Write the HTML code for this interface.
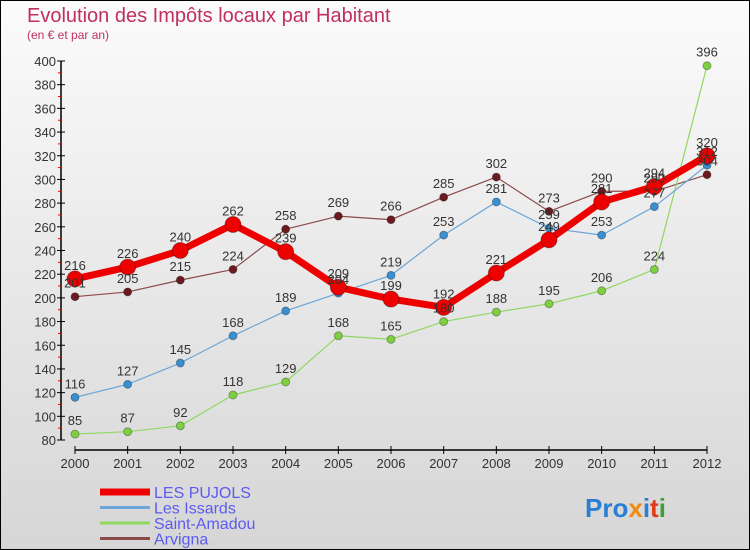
<!DOCTYPE html>
<html><head><meta charset="utf-8"><style>
body{margin:0}
#c{width:750px;height:550px;position:relative;overflow:hidden;background:linear-gradient(#fbfbfb,#d6d6d6);box-sizing:border-box;border:1px solid #000;font-family:"Liberation Sans",sans-serif}
</style></head><body>
<div id="c">
<svg id="s" width="750" height="550" style="position:absolute;left:-1px;top:-1px">
<text x="27" y="22" font-size="20" fill="#c0305e">Evolution des Impôts locaux par Habitant</text>
<text x="27" y="39" font-size="12" fill="#c0305e">(en € et par an)</text>
<g id="g"></g>
<text x="585" y="517" font-size="26" font-weight="bold"><tspan fill="#2a7fd4">Pro</tspan><tspan fill="#f08a10">x</tspan><tspan fill="#2a7fd4">i</tspan><tspan fill="#e03a1a">t</tspan><tspan fill="#3aa03a">i</tspan></text>
</svg>
</div>
<script>
const years=[2000,2001,2002,2003,2004,2005,2006,2007,2008,2009,2010,2011,2012];
const pujols=[216,226,240,262,239,209,199,192,221,249,281,294,320];
const issards=[116,127,145,168,189,204,219,253,281,259,253,277,312];
const amadou=[85,87,92,118,129,168,165,180,188,195,206,224,396];
const arvigna=[201,205,215,224,258,269,266,285,302,273,290,290,304];
const yTicks=[80,100,120,140,160,180,200,220,240,260,280,300,320,340,360,380,400];
const series=[
 {name:"Arvigna",v:arvigna,c:"#6b1a1f",lc:"#8b4a4a",w:1.2,r:4},
 {name:"Saint-Amadou",v:amadou,c:"#7fd040",lc:"#8fd860",w:1.2,r:4},
 {name:"Les Issards",v:issards,c:"#3a8fd0",lc:"#6aa6d8",w:1.2,r:4},
 {name:"LES PUJOLS",v:pujols,c:"#ee0000",lc:"#ee0000",w:7,r:8}];
const X=i=>75+i*(707-75)/(years.length-1);
const Y=v=>440-(v-80)*(440-61)/320;
const g=document.getElementById('g');const NS="http://www.w3.org/2000/svg";
function mk(t,a,p){const e=document.createElementNS(NS,t);for(const k in a)e.setAttribute(k,a[k]);(p||g).appendChild(e);return e;}
let e=mk('line',{x1:61,y1:61,x2:61,y2:440,stroke:"#000","stroke-width":1.5});

e=mk('line',{x1:75,y1:450,x2:707,y2:450,stroke:"#000","stroke-width":1.5});

yTicks.forEach((t,i)=>{const y=Y(t);
 mk('line',{x1:57,y1:y,x2:65,y2:y,stroke:"#000"});
 if(i<yTicks.length-1){mk('line',{x1:58,y1:Y(t+10),x2:61,y2:Y(t+10),stroke:"#e00"});}
 e=mk('text',{x:56,y:y+5,"text-anchor":"end","font-size":13,fill:"#333"});e.textContent=t;
 });
years.forEach((yr,i)=>{const x=X(i);
 mk('line',{x1:x,y1:446,x2:x,y2:454,stroke:"#000"});
 e=mk('text',{x:x,y:468,"text-anchor":"middle","font-size":13,fill:"#333"});e.textContent=yr;
 });
series.forEach(s=>{
 e=mk('polyline',{points:s.v.map((v,i)=>X(i)+","+Y(v)).join(" "),fill:"none",stroke:s.lc,"stroke-width":s.w,"stroke-linejoin":"round"});
 
 s.v.forEach((v,i)=>{e=mk('circle',{cx:X(i),cy:Y(v),r:s.r,fill:s.c,stroke:"rgba(0,0,0,0.3)"});
  });
});
series.forEach(s=>{s.v.forEach((v,i)=>{e=mk('text',{x:X(i),y:Y(v)-9,"text-anchor":"middle","font-size":13,fill:"#333"});e.textContent=v;
 });});
const leg=[series[3],series[2],series[1],series[0]];
leg.forEach((s,i)=>{const y=492+i*15.5;
 e=mk('line',{x1:100,y1:y,x2:150,y2:y,stroke:s.lc,"stroke-width":i==0?7:3});
 
 e=mk('text',{x:154,y:y+6,"font-size":16,fill:"#5b5bf0"});e.textContent=s.name;
 });
</script>
</body></html>
